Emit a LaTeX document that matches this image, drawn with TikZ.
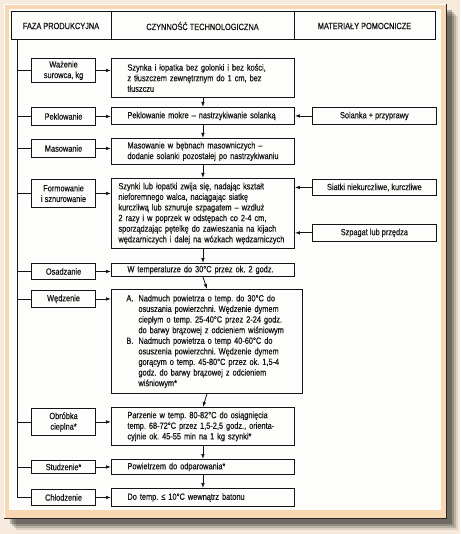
\documentclass[tikz,border=0pt]{standalone}
\usepackage{fontspec}
\setmainfont{Liberation Sans}[FakeStretch=0.82, FakeBold=0.35]
\usetikzlibrary{arrows.meta, positioning}
\frenchspacing

\definecolor{pagebg}{HTML}{F5EADC}
\definecolor{frameband}{HTML}{F8D8B2}
\definecolor{framedark}{HTML}{2A2522}
\definecolor{paper}{HTML}{FDFDFB}
\definecolor{ink}{HTML}{141414}

\begin{document}
\begin{tikzpicture}[
    x=1pt, y=-1pt,
    every node/.style={font=\fontsize{9}{10.6}\selectfont, text=ink},
    hdr/.style={
        draw=ink,
        line width=1pt,
        outer sep=0pt,
        minimum height=28pt,
        align=center
    },
    phase/.style={
        rectangle,
        draw=ink,
        line width=0.9pt,
        minimum width=64pt,
        minimum height=17pt,
        inner sep=1.5pt,
        align=center
    },
    opbox/.style={
        rectangle,
        draw=ink,
        line width=0.9pt,
        text width=151pt,
        inner xsep=16pt,
        inner ysep=1.5pt,
        align=left,
        anchor=north west
    },
    matbox/.style={
        rectangle,
        draw=ink,
        line width=0.9pt,
        minimum width=124pt,
        minimum height=17pt,
        inner sep=1.5pt,
        align=center
    },
    link/.style={
        draw=ink,
        -{Latex[length=5pt,width=3.6pt]},
        line width=0.8pt
    },
    tie/.style={
        draw=ink,
        line width=0.8pt
    }
]
\useasboundingbox (0,0) rectangle (460,534);

% Page, frame and shadow
\fill[pagebg] (0,0) rectangle (460,534);
\foreach \o/\a in {12/0.10, 10/0.15, 8/0.2, 6/0.25}
    \fill[black, opacity=\a] (4+\o,4+\o) rectangle (446+\o,518+\o);
\fill[frameband] (4,4) rectangle (446,518);
\draw[white, line width=0.8pt] (4,518) -- (4,4) -- (446,4);
\draw[framedark, line width=1pt] (446,4) -- (446,518) -- (4,518);
\fill[paper] (9,9) rectangle (441,510);

% Header row
\node [hdr, minimum width=100pt, anchor=north west] (h1) at (11,12) {FAZA PRODUKCYJNA};
\node [hdr, minimum width=183pt, right=0pt of h1] (h2) {CZYNNOŚĆ TECHNOLOGICZNA};
\node [hdr, minimum width=141pt, right=0pt of h2] (h3) {MATERIAŁY POMOCNICZE};

% Operations (middle column)
\node [opbox, minimum height=39pt] (m1) at (111,58)
    {Szynka i łopatka bez golonki i bez kości,\\z tłuszczem zewnętrznym do 1 cm, bez\\tłuszczu};
\node [opbox, minimum height=17pt] (m2) at (111,107)
    {Peklowanie mokre – nastrzykiwanie solanką};
\node [opbox, minimum height=26pt] (m3) at (111,138)
    {Masowanie w bębnach masowniczych –\\\mbox{dodanie solanki pozostałej po nastrzykiwaniu}};
\node [opbox, minimum height=70pt, text width=169pt, inner xsep=7pt] (m4) at (111,178)
    {Szynki lub łopatki zwija się, nadając kształt\\nieforemnego walca, naciągając siatkę\\kurczliwą lub sznuruje szpagatem – wzdłuż\\2 razy i w poprzek w odstępach co 2-4 cm,\\sporządzając pętelkę do zawieszania na kijach\\\mbox{wędzarniczych i dalej na wózkach wędzarniczych}};
\node [opbox, minimum height=13pt] (m5) at (111,263)
    {W temperaturze do 30°C przez ok. 2 godz.};
\node [opbox, minimum height=104pt, text width=161pt, inner xsep=15pt] (m6) at (111,289)
    {\makebox[12pt][l]{A.}Nadmuch powietrza o temp. do 30°C do\\
     \hspace*{12pt}osuszania powierzchni. Wędzenie dymem\\
     \hspace*{12pt}ciepłym o temp. 25-40°C przez 2-24 godz.\\
     \hspace*{12pt}\mbox{do barwy brązowej z odcieniem wiśniowym}\\
     \makebox[12pt][l]{B.}Nadmuch powietrza o temp 40-60°C do\\
     \hspace*{12pt}osuszenia powierzchni. Wędzenie dymem\\
     \hspace*{12pt}gorącym o temp. 45-80°C przez ok. 1,5-4\\
     \hspace*{12pt}godz. do barwy brązowej z odcieniem\\
     \hspace*{12pt}wiśniowym*};
\node [opbox, minimum height=38pt] (m7) at (111,407)
    {Parzenie w temp. 80-82°C do osiągnięcia\\temp. 68-72°C przez 1,5-2,5 godz., orienta-\\cyjnie ok. 45-55 min na 1 kg szynki*};
\node [opbox, minimum height=15pt] (m8) at (111,459)
    {Powietrzem do odparowania*};
\node [opbox, minimum height=18pt] (m9) at (111,488)
    {Do temp. ≤ 10°C wewnątrz batonu};

% Production phases (left column)
\node [phase, minimum height=24pt, left=15pt of m1.north west, anchor=north east] (p1) {Ważenie\\surowca, kg};
\node [phase, minimum height=18pt, left=15pt of m2.north west, anchor=north east] (p2) {Peklowanie};
\node [phase, minimum height=18pt, left=15pt of m3.north west, anchor=north east, yshift=-1pt] (p3) {Masowanie};
\node [phase, minimum height=28pt, left=15pt of m4.north west, anchor=north east, yshift=-1pt] (p4) {Formowanie\\i sznurowanie};
\node [phase, minimum height=16pt, left=15pt of m5.north west, anchor=north east] (p5) {Osadzanie};
\node [phase, minimum height=17pt, left=15pt of m6.north west, anchor=north east, yshift=-1pt] (p6) {Wędzenie};
\node [phase, minimum height=27pt, left=15pt of m7.north west, anchor=north east, yshift=-1pt] (p7) {Obróbka\\cieplna*};
\node [phase, minimum height=13pt, left=15pt of m8.north west, anchor=north east, yshift=-1pt] (p8) {Studzenie*};
\node [phase, minimum height=16pt, left=15pt of m9.north west, anchor=north east, yshift=-1pt] (p9) {Chłodzenie};

% Auxiliary materials (right column)
\node [matbox, right=17pt of m2.north east, anchor=north west] (r1) {Solanka + przyprawy};
\node [matbox, minimum height=16pt, right=17pt of m4.north east, anchor=north west, yshift=-1pt] (r2) {Siatki niekurczliwe, kurczliwe};
\node [matbox, below=28pt of r2.south west, anchor=north west] (r3) {Szpagat lub przędza};

% Connections
\coordinate [right=6pt of h1.south west] (spine);
\path [tie] (spine) |- (p9.west);
\foreach \i in {1,...,8}
    \path [tie] (p\i.west) -- (p\i.west -| spine);

\foreach \i in {1,...,9}
    \path [link] (p\i.east) -- (p\i.east -| m\i.west);

\foreach \i [count=\j from 2] in {1,...,8}
    \path [link] (m\i.south) -- (m\j.north);

\path [link] (r1.west) -- (r1.west -| m2.east);
\path [link] (r2.west) -- (r2.west -| m4.east);
\path [link] (r3.west) -- (r3.west -| m4.east);

\end{tikzpicture}
\end{document}
